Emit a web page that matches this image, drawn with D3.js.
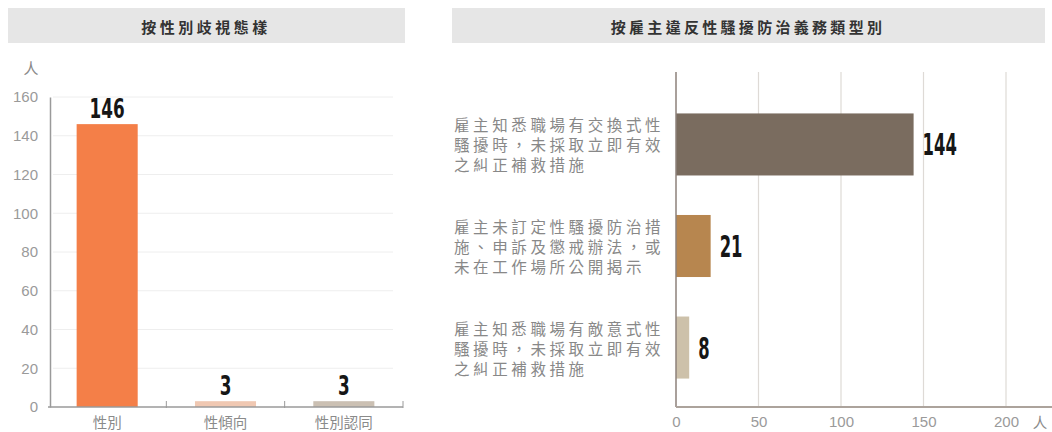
<!DOCTYPE html>
<html><head><meta charset="utf-8">
<script src="https://cdn.jsdelivr.net/npm/d3@7/dist/d3.min.js"></script>
<style>
html,body{margin:0;padding:0;background:#fff;}
svg{display:block;}
</style></head>
<body>
<svg id="c" width="1052" height="432"></svg>
<script>
// ---- data ----
const leftTitle = "按性別歧視態樣";
const leftCategories = ["性別", "性傾向", "性別認同"];
const leftValues = [146, 3, 3];
const leftColors = ["#f47f48", "#f0c8b2", "#cbc0b3"];
const leftTicks = [0, 20, 40, 60, 80, 100, 120, 140, 160];
const leftUnit = "人";

const rightTitle = "按雇主違反性騷擾防治義務類型別";
const rightCategories = [
  ["雇主知悉職場有交換式性", "騷擾時，未採取立即有效", "之糾正補救措施"],
  ["雇主未訂定性騷擾防治措", "施、申訴及懲戒辦法，或", "未在工作場所公開揭示"],
  ["雇主知悉職場有敵意式性", "騷擾時，未採取立即有效", "之糾正補救措施"]
];
const rightValues = [144, 21, 8];
const rightColors = ["#7a6c5f", "#b7864f", "#cdc1aa"];
const rightTicks = [0, 50, 100, 150, 200];
const rightUnit = "人";

const svg = d3.select("#c");
const sansCJK = "'Noto Sans CJK TC','Noto Sans CJK SC',sans-serif";
const numFont = "'DejaVu Sans Condensed','Liberation Sans Narrow',sans-serif";
const tickFont = "'Liberation Sans','Helvetica',Arial,sans-serif";

// ---------- LEFT ----------
const L = svg.append("g");
L.append("rect").attr("x", 8).attr("y", 8).attr("width", 397).attr("height", 35).attr("fill", "#e6e6e6");
L.append("text").attr("x", 206).attr("y", 26).attr("text-anchor", "middle").attr("dominant-baseline", "central")
  .attr("font-family", sansCJK).attr("font-weight", 700).attr("font-size", 15).attr("letter-spacing", 3.5)
  .attr("fill", "#333").text(leftTitle);

const ly = d3.scaleLinear().domain([0, 160]).range([407, 97]);
const lx = d3.scaleBand().domain(leftCategories).range([48, 403]).paddingInner(0.484).paddingOuter(0.242);

// gridlines
L.append("g").selectAll("line").data(leftTicks.filter(d => d > 0)).join("line")
  .attr("x1", 53).attr("x2", 393).attr("y1", d => ly(d)).attr("y2", d => ly(d))
  .attr("stroke", "#eeeeee").attr("stroke-width", 1);

// y axis
const yAxis = d3.axisLeft(ly).tickValues(leftTicks).tickSize(0).tickPadding(12);
const yg = L.append("g").attr("transform", "translate(50,0)").call(yAxis);
yg.select(".domain").attr("stroke", "#9a9a9a").attr("stroke-width", 1.5);
yg.selectAll("text").attr("font-family", tickFont).attr("font-size", 15).attr("fill", "#9a9a9a");

L.append("text").attr("x", 31).attr("y", 67).attr("text-anchor", "middle").attr("dominant-baseline", "central")
  .attr("font-family", sansCJK).attr("font-size", 15).attr("fill", "#8a8a8a").text(leftUnit);

// bars
L.append("g").selectAll("rect").data(leftValues).join("rect")
  .attr("x", (d, i) => lx(leftCategories[i])).attr("width", lx.bandwidth())
  .attr("y", d => ly(d)).attr("height", d => ly(0) - ly(d))
  .attr("fill", (d, i) => leftColors[i]);

// bottom axis
const bx = L.append("g");
bx.append("line").attr("x1", 48).attr("x2", 403).attr("y1", 407).attr("y2", 407).attr("stroke", "#9a9a9a").attr("stroke-width", 1.5);
const bounds = leftCategories.map(c => lx(c) + lx.bandwidth() + lx.step() * lx.paddingInner() / 2);
bounds[bounds.length - 1] = 403;
bx.selectAll("line.t").data(bounds).join("line").attr("class", "t")
  .attr("x1", d => d).attr("x2", d => d).attr("y1", 401).attr("y2", 408).attr("stroke", "#9a9a9a");
bx.selectAll("text").data(leftCategories).join("text")
  .attr("x", d => lx(d) + lx.bandwidth() / 2).attr("y", 421).attr("text-anchor", "middle").attr("dominant-baseline", "central")
  .attr("font-family", sansCJK).attr("font-size", 14.5).attr("fill", "#8a8a8a").text(d => d);

// value labels
L.append("g").selectAll("text").data(leftValues).join("text")
  .attr("x", (d, i) => lx(leftCategories[i]) + lx.bandwidth() / 2).attr("y", d => ly(d) - 6)
  .attr("text-anchor", "middle").attr("font-family", numFont).attr("font-weight", 700).attr("font-size", 26)
  .attr("textLength", d => String(d).length * 11.7).attr("lengthAdjust", "spacingAndGlyphs")
  .attr("fill", "#161616").text(d => d);

// ---------- RIGHT ----------
const R = svg.append("g");
R.append("rect").attr("x", 452).attr("y", 8).attr("width", 593).attr("height", 35).attr("fill", "#e6e6e6");
R.append("text").attr("x", 748).attr("y", 26).attr("text-anchor", "middle").attr("dominant-baseline", "central")
  .attr("font-family", sansCJK).attr("font-weight", 700).attr("font-size", 15).attr("letter-spacing", 3.3)
  .attr("fill", "#333").text(rightTitle);

const rx = d3.scaleLinear().domain([0, 200]).range([676, 1006]);
const ryKeys = rightCategories.map((d, i) => i);
const ry = d3.scaleBand().domain(ryKeys).range([85, 407]).paddingInner(0.389).paddingOuter(0.28);

// gridlines
R.append("g").selectAll("line").data(rightTicks.filter(d => d > 0)).join("line")
  .attr("x1", d => rx(d)).attr("x2", d => rx(d)).attr("y1", 72).attr("y2", 407)
  .attr("stroke", "#dedad6").attr("stroke-width", 1.2);

// bars
R.append("g").selectAll("rect").data(rightValues).join("rect")
  .attr("x", rx(0)).attr("width", d => rx(d) - rx(0))
  .attr("y", (d, i) => ry(i)).attr("height", ry.bandwidth())
  .attr("fill", (d, i) => rightColors[i]);

// axes
R.append("line").attr("x1", rx(0)).attr("x2", rx(0)).attr("y1", 72).attr("y2", 407).attr("stroke", "#8c817a").attr("stroke-width", 1.5);
const xAxis = d3.axisBottom(rx).tickValues(rightTicks).tickSize(0).tickPadding(9);
const xg = R.append("g").attr("transform", "translate(0,407)").call(xAxis);
xg.select(".domain").remove();
xg.selectAll("text").attr("font-family", tickFont).attr("font-size", 15).attr("fill", "#9a9a9a");
R.append("line").attr("x1", rx(0)).attr("x2", 1052).attr("y1", 407).attr("y2", 407).attr("stroke", "#aca39c").attr("stroke-width", 2);
R.append("text").attr("x", 1040).attr("y", 421).attr("text-anchor", "middle").attr("dominant-baseline", "central")
  .attr("font-family", sansCJK).attr("font-size", 14.5).attr("fill", "#8a8a8a").text(rightUnit);

// category labels
const cl = R.append("g");
rightCategories.forEach((lines, i) => {
  const cy = ry(i) + ry.bandwidth() / 2;
  const t = cl.append("text").attr("font-family", sansCJK).attr("font-size", 15.5).attr("letter-spacing", 3.6)
    .attr("fill", "#888888");
  lines.forEach((ln, j) => {
    t.append("tspan").attr("x", 454).attr("y", cy + (j - (lines.length - 1) / 2) * 20)
      .attr("dominant-baseline", "central").text(ln);
  });
});

// value labels
R.append("g").selectAll("text").data(rightValues).join("text")
  .attr("x", d => rx(d) + 9).attr("y", (d, i) => ry(i) + ry.bandwidth() / 2 + 11)
  .attr("font-family", numFont).attr("font-weight", 700).attr("font-size", 31)
  .attr("textLength", d => String(d).length * 11.4).attr("lengthAdjust", "spacingAndGlyphs")
  .attr("fill", "#161616").text(d => d);
</script>
</body></html>
